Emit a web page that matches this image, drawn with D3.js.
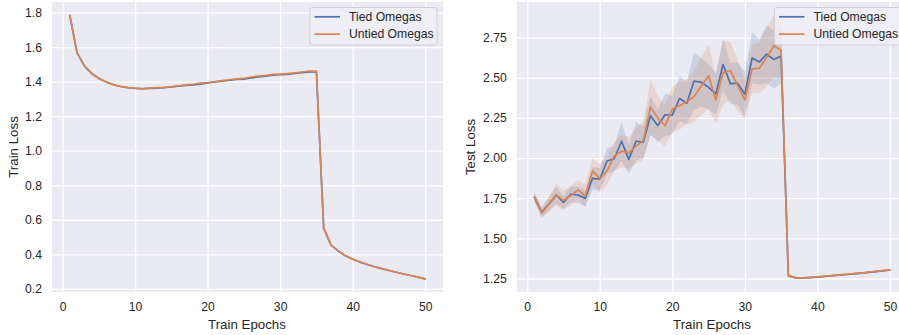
<!DOCTYPE html>
<html>
<head>
<meta charset="utf-8">
<script src="https://cdn.jsdelivr.net/npm/d3@7"></script>
<style>
  html, body { margin: 0; padding: 0; background: #ffffff; }
  svg { display: block; font-family: "Liberation Sans", Arial, sans-serif; }
</style>
</head>
<body>
<svg id="chart" width="899" height="335"></svg>
<script>
// ---------------- data ----------------
const epochs = d3.range(1, 51);

const trainTied = [1.783, 1.568, 1.491, 1.447, 1.418, 1.398, 1.382, 1.372, 1.365, 1.361,
                   1.359, 1.361, 1.363, 1.365, 1.369, 1.374, 1.378, 1.381, 1.386, 1.392,
                   1.398, 1.403, 1.408, 1.413, 1.415, 1.422, 1.427, 1.432, 1.437, 1.440,
                   1.442, 1.448, 1.452, 1.456, 1.456, 0.552, 0.455, 0.419, 0.391, 0.371,
                   0.355, 0.341, 0.328, 0.317, 0.306, 0.296, 0.286, 0.277, 0.268, 0.258];
const trainUntied = [1.785, 1.570, 1.493, 1.449, 1.420, 1.400, 1.383, 1.373, 1.365, 1.362,
                     1.360, 1.363, 1.365, 1.367, 1.371, 1.376, 1.381, 1.385, 1.391, 1.395,
                     1.401, 1.406, 1.411, 1.416, 1.419, 1.427, 1.432, 1.436, 1.442, 1.444,
                     1.446, 1.451, 1.456, 1.461, 1.461, 0.552, 0.455, 0.420, 0.392, 0.372,
                     0.356, 0.342, 0.329, 0.318, 0.307, 0.296, 0.287, 0.277, 0.268, 0.258];

const testTied = [1.755, 1.662, 1.715, 1.769, 1.724, 1.775, 1.770, 1.749, 1.874, 1.868,
                  1.982, 1.996, 2.105, 1.992, 2.105, 2.099, 2.264, 2.202, 2.270, 2.268,
                  2.371, 2.342, 2.480, 2.472, 2.441, 2.400, 2.583, 2.464, 2.466, 2.398,
                  2.624, 2.598, 2.647, 2.614, 2.635, 1.267, 1.254, 1.253, 1.256, 1.259,
                  1.263, 1.267, 1.271, 1.275, 1.279, 1.283, 1.288, 1.293, 1.298, 1.303];
const testUntied = [1.759, 1.658, 1.715, 1.771, 1.736, 1.765, 1.802, 1.765, 1.920, 1.872,
                    1.920, 2.012, 2.043, 2.033, 2.074, 2.109, 2.317, 2.249, 2.202, 2.305,
                    2.326, 2.352, 2.383, 2.449, 2.511, 2.363, 2.532, 2.544, 2.453, 2.363,
                    2.556, 2.560, 2.626, 2.700, 2.672, 1.267, 1.255, 1.254, 1.257, 1.260,
                    1.264, 1.268, 1.272, 1.276, 1.280, 1.284, 1.289, 1.294, 1.299, 1.304];

const testTiedErr = [0.03, 0.03, 0.04, 0.05, 0.04, 0.05, 0.05, 0.05, 0.07, 0.07,
                     0.08, 0.08, 0.12, 0.09, 0.12, 0.10, 0.12, 0.10, 0.13, 0.12,
                     0.14, 0.13, 0.18, 0.15, 0.14, 0.13, 0.16, 0.13, 0.13, 0.14,
                     0.16, 0.14, 0.18, 0.18, 0.17, 0.01, 0.005, 0.005, 0.005, 0.005,
                     0.005, 0.005, 0.005, 0.005, 0.005, 0.005, 0.005, 0.005, 0.005, 0.005];
const testUntiedErr = [0.03, 0.03, 0.05, 0.07, 0.06, 0.06, 0.06, 0.07, 0.08, 0.09,
                       0.09, 0.09, 0.10, 0.10, 0.11, 0.12, 0.17, 0.14, 0.13, 0.14,
                       0.15, 0.14, 0.16, 0.18, 0.20, 0.15, 0.20, 0.18, 0.16, 0.12,
                       0.15, 0.16, 0.18, 0.19, 0.18, 0.01, 0.005, 0.005, 0.005, 0.005,
                       0.005, 0.005, 0.005, 0.005, 0.005, 0.005, 0.005, 0.005, 0.005, 0.005];

const seriesNames = ["Tied Omegas", "Untied Omegas"];
const seriesColors = ["#4c72b0", "#dd8452"];
const xTicks = [0, 10, 20, 30, 40, 50];
const trainYTicks = [0.2, 0.4, 0.6, 0.8, 1.0, 1.2, 1.4, 1.6, 1.8];
const testYTicks = [1.25, 1.50, 1.75, 2.00, 2.25, 2.50, 2.75];

// ---------------- drawing ----------------
const svg = d3.select("#chart");
const textColor = "#262626";

function padDomain(lo, hi) {
  const m = (hi - lo) * 0.05;
  return [lo - m, hi + m];
}

function drawPanel(opts) {
  const g = svg.append("g");
  const clipId = "clip" + opts.id;
  svg.append("clipPath").attr("id", clipId)
    .append("rect").attr("x", opts.left).attr("y", opts.top)
    .attr("width", opts.width).attr("height", opts.height);

  const x = d3.scaleLinear().domain(padDomain(1, 50))
    .range([opts.left, opts.left + opts.width]);
  const y = d3.scaleLinear().domain(opts.yDomain)
    .range([opts.top + opts.height, opts.top]);

  g.append("rect").attr("x", opts.left).attr("y", opts.top)
    .attr("width", opts.width).attr("height", opts.height)
    .attr("fill", "#eaeaf2");

  const gx = g.append("g")
    .attr("transform", `translate(0,${opts.top + opts.height})`)
    .call(d3.axisBottom(x).tickValues(xTicks).tickFormat(d3.format("d"))
      .tickSize(-opts.height).tickPadding(10));
  const gy = g.append("g")
    .attr("transform", `translate(${opts.left},0)`)
    .call(d3.axisLeft(y).tickValues(opts.yTicks).tickFormat(opts.yFormat)
      .tickSize(-opts.width).tickPadding(10));
  [gx, gy].forEach(a => {
    a.select(".domain").remove();
    a.selectAll(".tick line").attr("stroke", "#ffffff").attr("stroke-width", 1.3);
    a.selectAll(".tick text").attr("fill", textColor)
      .style("font-size", "12.2px").style("font-family", "'Liberation Sans', Arial, sans-serif");
  });

  const plot = g.append("g").attr("clip-path", `url(#${clipId})`);

  if (opts.errs) {
    opts.series.forEach((s, i) => {
      const area = d3.area()
        .x((d, j) => x(epochs[j]))
        .y0((d, j) => y(d - opts.errs[i][j]))
        .y1((d, j) => y(d + opts.errs[i][j]));
      plot.append("path").datum(s).attr("d", area)
        .attr("fill", seriesColors[i]).attr("fill-opacity", 0.2).attr("stroke", "none");
    });
  }
  const line = d3.line().x((d, j) => x(epochs[j])).y(d => y(d));
  opts.series.forEach((s, i) => {
    plot.append("path").datum(s).attr("d", line)
      .attr("fill", "none").attr("stroke", seriesColors[i])
      .attr("stroke-width", 1.7).attr("stroke-linejoin", "round").attr("stroke-linecap", "round");
  });

  g.append("text").attr("x", opts.xLabelX).attr("y", 329)
    .attr("text-anchor", "middle").attr("fill", textColor)
    .style("font-size", "13.3px").text("Train Epochs");
  g.append("text")
    .attr("transform", `translate(${opts.yLabelX},${opts.top + opts.height / 2}) rotate(-90)`)
    .attr("text-anchor", "middle").attr("fill", textColor)
    .style("font-size", "13.3px").text(opts.yLabel);

  const lg = g.append("g").attr("transform", `translate(${opts.legendX},7.5)`);
  lg.append("rect").attr("x", 0).attr("y", 0).attr("width", 127).attr("height", 37.5)
    .attr("rx", 2.5).attr("fill", "#eeeef5").attr("fill-opacity", 0.85)
    .attr("stroke", "#d0d0d8").attr("stroke-width", 1);
  seriesNames.forEach((n, i) => {
    const yy = 9.3 + i * 17.3;
    lg.append("line").attr("x1", 4.5).attr("x2", 30).attr("y1", yy).attr("y2", yy)
      .attr("stroke", seriesColors[i]).attr("stroke-width", 1.7);
    lg.append("text").attr("x", 39).attr("y", yy + 4.3)
      .attr("fill", textColor).style("font-size", "12.2px").text(n);
  });
}

const trainAll = trainTied.concat(trainUntied);
drawPanel({
  id: "L", left: 52, top: 2, width: 391, height: 290,
  series: [trainTied, trainUntied],
  yDomain: padDomain(d3.min(trainAll), d3.max(trainAll)),
  yTicks: trainYTicks, yFormat: d3.format(".1f"),
  yLabel: "Train Loss", yLabelX: 18, xLabelX: 247, legendX: 310
});

const lows = testTied.map((v, j) => v - testTiedErr[j]).concat(testUntied.map((v, j) => v - testUntiedErr[j]));
const highs = testTied.map((v, j) => v + testTiedErr[j]).concat(testUntied.map((v, j) => v + testUntiedErr[j]));
drawPanel({
  id: "R", left: 516.7, top: 2, width: 391, height: 290,
  series: [testTied, testUntied],
  errs: [testTiedErr, testUntiedErr],
  yDomain: padDomain(d3.min(lows), d3.max(highs)),
  yTicks: testYTicks, yFormat: d3.format(".2f"),
  yLabel: "Test Loss", yLabelX: 475, xLabelX: 712, legendX: 774.5
});
</script>
</body>
</html>
